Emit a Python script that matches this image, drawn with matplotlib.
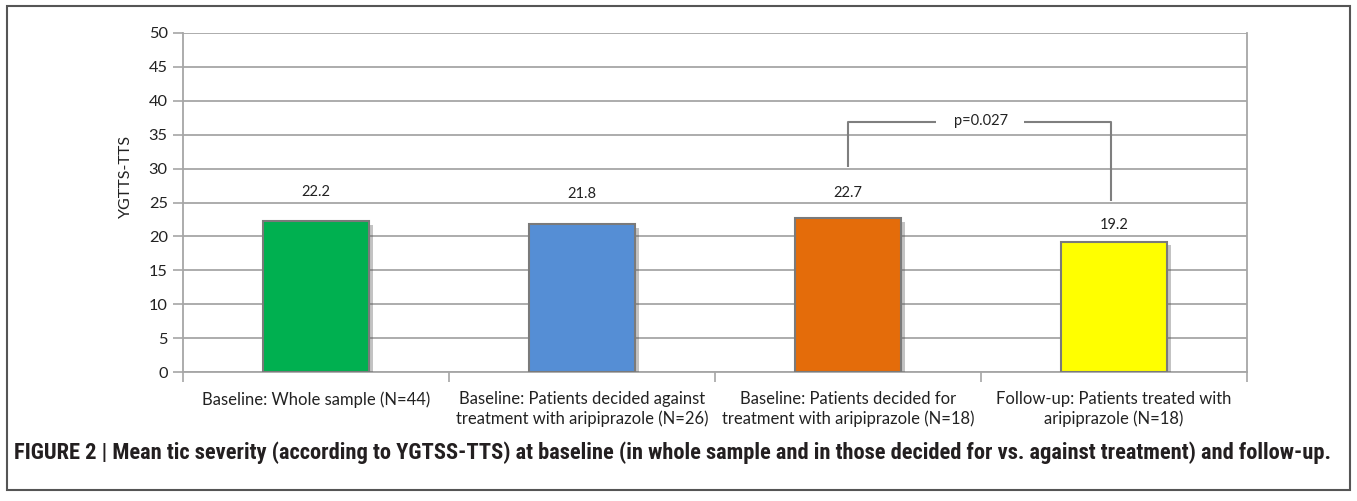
import matplotlib
matplotlib.use("Agg")
import matplotlib.pyplot as plt
from matplotlib.patches import Rectangle
from matplotlib import font_manager
import matplotlib.patheffects as pe
import numpy as np

categories = [
    "Baseline: Whole sample (N=44)",
    "Baseline: Patients decided against\ntreatment with aripiprazole (N=26)",
    "Baseline: Patients decided for\ntreatment with aripiprazole (N=18)",
    "Follow-up: Patients treated with\naripiprazole (N=18)",
]
values = [22.2, 21.8, 22.7, 19.2]
value_labels = ["22.2", "21.8", "22.7", "19.2"]
colors = ["#00B050", "#558ED5", "#E46C0A", "#FFFF00"]
yticks = [0, 5, 10, 15, 20, 25, 30, 35, 40, 45, 50]
p_text = "p=0.027"
caption = ("FIGURE 2 | Mean tic severity (according to YGTSS-TTS) at baseline (in whole sample and in those "
           "decided for vs. against treatment) and follow-up.")

label_offsets = [4.3, 4.4, 3.7, 2.5]

available = {f.name for f in font_manager.fontManager.ttflist}
cap_family = "Liberation Sans"
cap_size = 12.6
for cand, sz in [("Roboto Condensed", 16.2), ("Liberation Sans Narrow", 16.0), ("Open Sans Condensed", 16.0)]:
    if cand in available:
        cap_family, cap_size = cand, sz
        break

fig = plt.figure(figsize=(13.57, 5.01), dpi=100)
ax = fig.add_axes([183/1357, 1-372/501, (1247-183)/1357, (372-33)/501])

x = np.arange(len(categories))
bars = ax.bar(x, values, width=0.40, color=colors, edgecolor="#7a7a7a", linewidth=1.5, zorder=3)
for b in bars:
    b.set_path_effects([pe.SimplePatchShadow(offset=(2.5, -2.5), alpha=0.35, shadow_rgbFace="#555555"), pe.Normal()])

for xi, v, lab, off in zip(x, values, value_labels, label_offsets):
    ax.text(xi, v + off, lab, ha="center", va="center", fontsize=10.5, family="Lato", color="#222222", zorder=4)

ax.set_xlim(-0.5, len(categories) - 0.5)
ax.set_ylim(0, 50)
ax.set_yticks(yticks)
ax.set_yticklabels([str(t) for t in yticks], fontsize=11.8, family="Lato", color="#222222")
ax.yaxis.grid(True, color="#a6a6a6", linewidth=1.3, zorder=0)
ax.set_axisbelow(True)
ax.tick_params(axis="y", direction="out", length=7, width=1.2, color="#a6a6a6", pad=4)

ax.set_xticks(x)
ax.set_xticklabels(categories, fontsize=12, family="Lato", color="#222222", linespacing=1.2)
ax.set_xticks(np.arange(-0.5, len(categories), 1.0), minor=True)
ax.tick_params(axis="x", which="major", length=0, pad=14)
ax.tick_params(axis="x", which="minor", direction="out", length=7, width=1.2, color="#a6a6a6")

for s in ["left", "bottom", "right"]:
    ax.spines[s].set_color("#a6a6a6")
    ax.spines[s].set_linewidth(1.3)
ax.spines["top"].set_visible(False)

ax.set_ylabel("YGTTS-TTS", fontsize=11.5, family="Lato", color="#222222")
ax.yaxis.set_label_coords(-0.047, 0.578)

# significance bracket
bc = "#7f7f7f"
ax.plot([2, 2, 2.33], [30.2, 36.9, 36.9], color=bc, lw=1.5, zorder=4, solid_capstyle="butt")
ax.plot([2.66, 2.99, 2.99], [36.9, 36.9, 25.2], color=bc, lw=1.5, zorder=4, solid_capstyle="butt")
ax.text(2.5, 37.0, p_text, ha="center", va="center", fontsize=10.5, family="Lato", color="#222222", zorder=5)

# caption
fig.text(14/1357, 1-453/501, caption, ha="left", va="center", fontsize=cap_size, fontweight="bold",
         family=[cap_family, "DejaVu Sans"], color="#231f20")

# outer frame
fig.patches.append(Rectangle((7/1357, 1-490/501), (1350-7)/1357, (490-6)/501, transform=fig.transFigure,
                             fill=False, edgecolor="#555555", linewidth=1.5))

fig.savefig("out.png", dpi=100)
